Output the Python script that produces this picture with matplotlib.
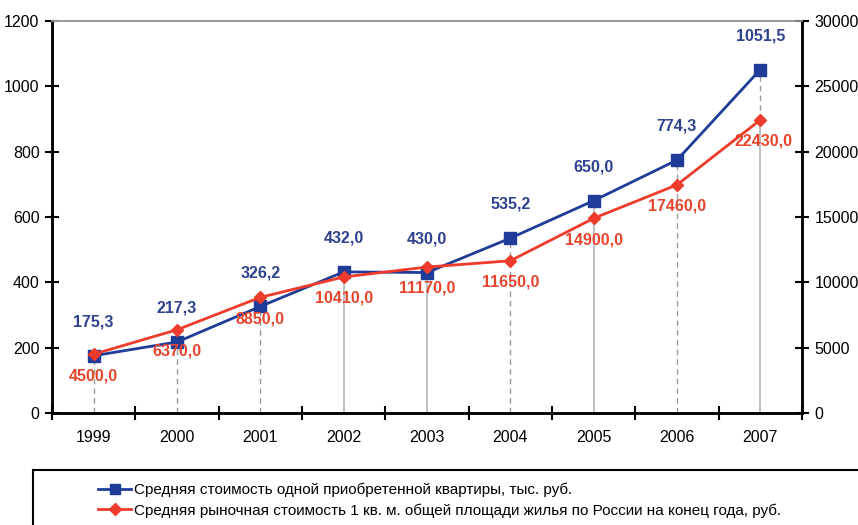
import matplotlib.pyplot as plt
from matplotlib.patches import Rectangle
from matplotlib.lines import Line2D

plt.rcParams['font.family'] = ['Liberation Sans', 'DejaVu Sans']

years = ["1999", "2000", "2001", "2002", "2003", "2004", "2005", "2006", "2007"]
flat_price = [175.3, 217.3, 326.2, 432.0, 430.0, 535.2, 650.0, 774.3, 1051.5]
sqm_price = [4500, 6370, 8850, 10410, 11170, 11650, 14900, 17460, 22430]
flat_labels = ["175,3", "217,3", "326,2", "432,0", "430,0", "535,2", "650,0", "774,3", "1051,5"]
sqm_labels = ["4500,0", "6370,0", "8850,0", "10410,0", "11170,0", "11650,0", "14900,0", "17460,0", "22430,0"]
drop_style = ["dash", "dash", "dash", "solid", "solid", "dash", "solid", "dash", "solid"]
legend_names = ["Средняя стоимость одной приобретенной квартиры, тыс. руб.",
                "Средняя рыночная стоимость 1 кв. м. общей площади жилья по России на конец года, руб."]

blue = "#1F3C98"
red = "#EE3B2B"
blue_txt = "#2E4290"
red_txt = "#E8452F"

fig = plt.figure(figsize=(8.58, 5.25), dpi=100)
ax = fig.add_axes([52/858, 1 - 413/525, 750/858, 392/525])
ax2 = ax.twinx()

x = list(range(len(years)))
ratio = 1200 / 30000

# drop lines
for i in x:
    top = max(flat_price[i], sqm_price[i] * ratio)
    low = sqm_price[i] * ratio
    if drop_style[i] == "dash":
        ax.plot([i, i], [0, top], color="#9A9A9A", lw=1.0, ls=(0, (4, 3)), zorder=1)
    else:
        if flat_price[i] > low:
            ax.plot([i, i], [low, flat_price[i]], color="#9A9A9A", lw=1.0, ls=(0, (4, 3)), zorder=1)
        ax.plot([i, i], [0, top if i != 8 else low], color="#BBBBBB", lw=1.3, zorder=1)

ax.plot(x, flat_price, color=blue, marker="s", ms=8, lw=2, zorder=3)
ax2.plot(x, sqm_price, color=red, marker="D", ms=6.5, lw=2, zorder=4)

for i in x:
    ax.annotate(flat_labels[i], (i, flat_price[i]), xytext=(0, 19), textcoords="offset points",
                ha="center", va="bottom", fontsize=11.5, fontweight="bold", color=blue_txt)
    dx = 2 if i == 8 else 0
    ax2.annotate(sqm_labels[i], (i, sqm_price[i]), xytext=(dx, -10), textcoords="offset points",
                 ha="center", va="top", fontsize=11.5, fontweight="bold", color=red_txt)

ax.set_xlim(-0.5, 8.5)
ax.set_ylim(0, 1200)
ax2.set_ylim(0, 30000)
ax.set_yticks(range(0, 1201, 200))
ax2.set_yticks(range(0, 30001, 5000))
ax.set_xticks(x)
ax.set_xticklabels(years)
ax.set_xticks([i + 0.5 for i in range(-1, 9)], minor=True)
ax.tick_params(axis="x", which="major", length=0, pad=12, labelsize=11.5)
ax.tick_params(axis="x", which="minor", length=10, width=1.5, direction="inout")
ax.tick_params(axis="y", length=10, width=1.5, direction="inout", labelsize=11.5, pad=4)
ax2.tick_params(axis="y", length=10, width=1.5, direction="inout", labelsize=11.5, pad=4)

for a in (ax, ax2):
    a.spines["left"].set_linewidth(1.8)
    a.spines["right"].set_linewidth(1.8)
    a.spines["bottom"].set_linewidth(1.8)
    a.spines["top"].set_color("#999999")
    a.spines["top"].set_linewidth(1.2)
ax2.set_zorder(ax.get_zorder() + 1)
ax2.patch.set_visible(False)

# legend box
fig.patches.append(Rectangle((33/858, -0.05), 0.99, 1 - 470/525 + 0.05, transform=fig.transFigure,
                             fill=False, edgecolor="black", lw=1.5))
handles = [Line2D([], [], color=blue, marker="s", ms=7, lw=2),
           Line2D([], [], color=red, marker="D", ms=6, lw=2)]
fig.legend(handles, legend_names, loc="upper left", bbox_to_anchor=(84/858, 1 - 469/525),
           frameon=False, fontsize=11, handlelength=2.2, handletextpad=0.2, labelspacing=0.4)

fig.savefig("out.png", dpi=100)
